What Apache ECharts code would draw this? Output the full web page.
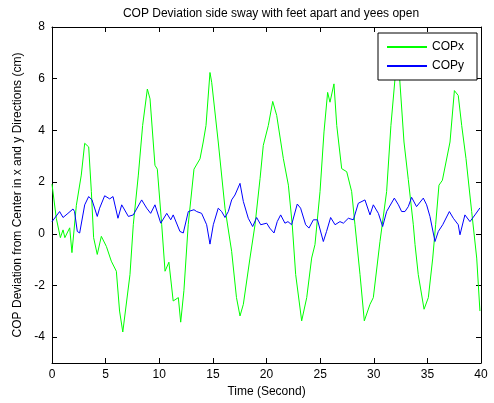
<!DOCTYPE html>
<html>
<head>
<meta charset="utf-8">
<script src="https://cdn.jsdelivr.net/npm/echarts@6/dist/echarts.min.js"></script>
<style>
  html, body { margin: 0; padding: 0; background: #fff; }
  #copChart { width: 494px; height: 403px; }
</style>
</head>
<body>
<div id="copChart"></div>
<script>
// time (s) and deviation (cm)
var copxTime = [0, 0.4, 0.78, 1.03, 1.2, 1.65, 1.86, 2.27, 2.73, 3.05, 3.42, 3.67, 3.88, 4.22, 4.6, 5.07, 5.53, 6.0, 6.3, 6.6,
    7.27, 7.58, 8.05, 8.45, 8.89, 9.14, 9.6, 9.82, 10.23, 10.54, 10.9, 11.3, 11.78, 12.0, 12.3, 12.7, 13.24, 13.8, 14.1, 14.36,
    14.73, 14.89, 15.5, 16.13, 16.75, 17.2, 17.53, 17.84, 18.46, 18.93, 19.4, 19.7, 20.17, 20.58, 20.95, 21.57, 22.04, 22.4,
    22.72, 23.28, 23.75, 24.21, 24.52, 24.99, 25.36, 25.7, 25.92, 26.29, 26.55, 27.01, 27.48, 27.94, 28.25, 28.72, 29.12,
    29.65, 29.96, 30.58, 31.2, 31.6, 31.98, 32.15, 32.4, 32.82, 33.22, 33.69, 33.85, 34.15, 34.69, 35.09, 35.5, 35.77, 36.08,
    36.4, 37.11, 37.52, 37.88, 38.2, 38.6, 39.13, 39.6, 39.9]
var copxValue = [1.92, 0.6, -0.15, 0.15, -0.15, 0.23, -0.73, 1.1, 2.27, 3.5, 3.36, 1.63, -0.15, -0.8, -0.1, -0.49, -1.06, -1.45, -2.99, -3.8,
    -1.58, 0.35, 2.27, 4.19, 5.6, 5.22, 2.65, 2.5, 0.35, -1.45, -1.1, -2.6, -2.47, -3.42, -2.2, 0.35, 2.5, 2.9, 3.55, 4.19,
    6.24, 5.86, 3.55, 0.99, -0.68, -2.47, -3.18, -2.73, -0.94, 0.35, 2.14, 3.42, 4.19, 5.12, 4.58, 2.91, 1.88, 0.35,
    -1.58, -3.37, -2.47, -0.94, -0.42, 1.63, 3.94, 5.47, 5.09, 5.8, 4.19, 2.52, 2.4, 1.63, 0.35, -1.58, -3.37,
    -2.73, -2.47, -0.3, 1.63, 4.19, 5.99, 6.8, 6.1, 3.55, 2.1, 0.35, -0.42, -1.58, -2.92, -2.47, -0.94, 0.35, 1.88,
    2.07, 3.55, 5.54, 5.35, 4.19, 2.91, 0.86, -0.94, -2.99]

var copyTime = [0, 0.71, 1.03, 1.49, 1.96, 2.1, 2.36, 2.58, 3.05, 3.42, 3.73, 4.22, 4.44, 4.91, 5.38, 5.69, 6.15, 6.5,
    7.12, 7.58, 8.36, 8.83, 9.2, 9.6, 10.14, 10.7, 11.07, 11.3, 11.93, 12.24, 12.71, 13.24, 13.49, 13.95, 14.42, 14.73,
    15.04, 15.5, 15.82, 16.13, 16.44, 16.75, 17.06, 17.53, 17.84, 18.3, 18.71, 19.08, 19.46, 20.02, 20.3, 20.7, 21.0,
    21.32, 21.72, 22.0, 22.34, 22.87, 23.18, 23.65, 23.96, 24.37, 24.75, 25.3, 25.6, 25.98, 26.39, 26.85, 27.17, 27.63,
    28.1, 28.56, 29.18, 29.65, 29.96, 30.43, 30.83, 31.2, 31.92, 32.3, 32.6, 32.91, 33.22, 33.53, 33.99, 34.62, 34.93,
    35.24, 35.71, 36.02, 36.43, 37.05, 37.42, 37.88, 38.04, 38.5, 38.97, 39.44, 39.9]
var copyValue = [0.47, 0.86, 0.63, 0.79, 0.96, 0.86, 0.09, 0.03, 1.12, 1.44, 1.31, 0.67, 0.99, 1.47, 1.35, 1.44, 0.6, 1.12,
    0.67, 0.73, 1.31, 0.99, 0.79, 1.12, 0.41, 0.79, 0.54, 0.73, 0.09, 0.03, 0.86, 0.93, 0.86, 0.79, 0.35, -0.4,
    0.35, 0.99, 0.86, 0.63, 0.86, 1.31, 1.5, 1.95, 1.25, 0.6, 0.28, 0.63, 0.35, 0.41, 0.22, 0.03, 0.47,
    0.73, 0.41, 0.47, 0.35, 1.15, 0.99, 0.35, 0.22, 0.54, 0.54, -0.3, 0.09, 0.63, 0.35, 0.47, 0.41, 0.6,
    0.54, 1.18, 1.31, 0.73, 1.12, 0.79, 0.28, 0.86, 1.38, 1.12, 0.86, 0.86, 1.05, 1.41, 1.05, 1.38, 1.12,
    0.67, -0.3, 0.09, 0.35, 0.86, 0.6, 0.35, -0.04, 0.73, 0.47, 0.73, 1.0]

var yTicks = [-4, -2, 0, 2, 4, 6, 8]

var pair = function (t, v) {
    var out = []
    for (var i = 0; i < t.length; i++) {
        out.push([t[i], v[i]])
    }
    return out
}

var font = 'Liberation Sans'
var axisLine = { show: true, onZero: false, lineStyle: { color: '#000', width: 1 } }

var option = {
    animation: false,
    backgroundColor: '#fff',
    textStyle: { fontFamily: font },
    title: {
        text: 'COP Deviation side sway with feet apart and yees open',
        left: 266,
        textAlign: 'center',
        top: 3,
        textStyle: { fontFamily: font, fontSize: 12, fontWeight: 'normal', color: '#000' }
    },
    grid: { left: 52, right: 13, top: 27, bottom: 39 },
    legend: {
        orient: 'vertical',
        left: 378,
        top: 33,
        padding: [8, 13, 8, 8],
        itemGap: 7,
        itemWidth: 40,
        itemHeight: 14,
        backgroundColor: '#fff',
        borderColor: '#000',
        borderWidth: 1,
        borderRadius: 0,
        itemStyle: { opacity: 0 },
        textStyle: { fontFamily: font, fontSize: 12, color: '#000' },
        data: ['COPx', 'COPy']
    },
    xAxis: [
        {
            type: 'value', min: 0, max: 40, interval: 5,
            name: 'Time (Second)', nameLocation: 'middle', nameGap: 23,
            nameTextStyle: { fontFamily: font, fontSize: 12, color: '#000' },
            axisLine: axisLine,
            axisTick: { inside: true, length: 5, lineStyle: { color: '#000' } },
            axisLabel: { color: '#000', fontSize: 12, margin: 6 },
            splitLine: { show: false }
        },
        {
            type: 'value', position: 'top', min: 0, max: 40, interval: 5,
            axisLine: axisLine,
            axisTick: { inside: true, length: 5, lineStyle: { color: '#000' } },
            axisLabel: { show: false },
            splitLine: { show: false }
        }
    ],
    yAxis: [
        {
            type: 'value', min: -5, max: 8, interval: 1,
            name: 'COP Deviation from Center in x and y Directions (cm)',
            nameLocation: 'middle', nameGap: 28,
            nameTextStyle: { fontFamily: font, fontSize: 12, color: '#000' },
            axisLine: axisLine,
            axisTick: { inside: true, length: 5, customValues: yTicks, lineStyle: { color: '#000' } },
            axisLabel: { color: '#000', fontSize: 12, margin: 7, customValues: yTicks },
            splitLine: { show: false }
        },
        {
            type: 'value', position: 'right', min: -5, max: 8, interval: 1,
            axisLine: axisLine,
            axisTick: { inside: true, length: 5, customValues: yTicks, lineStyle: { color: '#000' } },
            axisLabel: { show: false },
            splitLine: { show: false }
        }
    ],
    series: [
        {
            name: 'COPx',
            type: 'line',
            data: pair(copxTime, copxValue),
            symbol: 'none',
            lineStyle: { color: '#00ff00', width: 1 },
            itemStyle: { color: '#00ff00' }
        },
        {
            name: 'COPy',
            type: 'line',
            data: pair(copyTime, copyValue),
            symbol: 'none',
            lineStyle: { color: '#0000ff', width: 1 },
            itemStyle: { color: '#0000ff' }
        }
    ]
}

var chart = echarts.init(document.getElementById('copChart'))
chart.setOption(option)
</script>
</body>
</html>
